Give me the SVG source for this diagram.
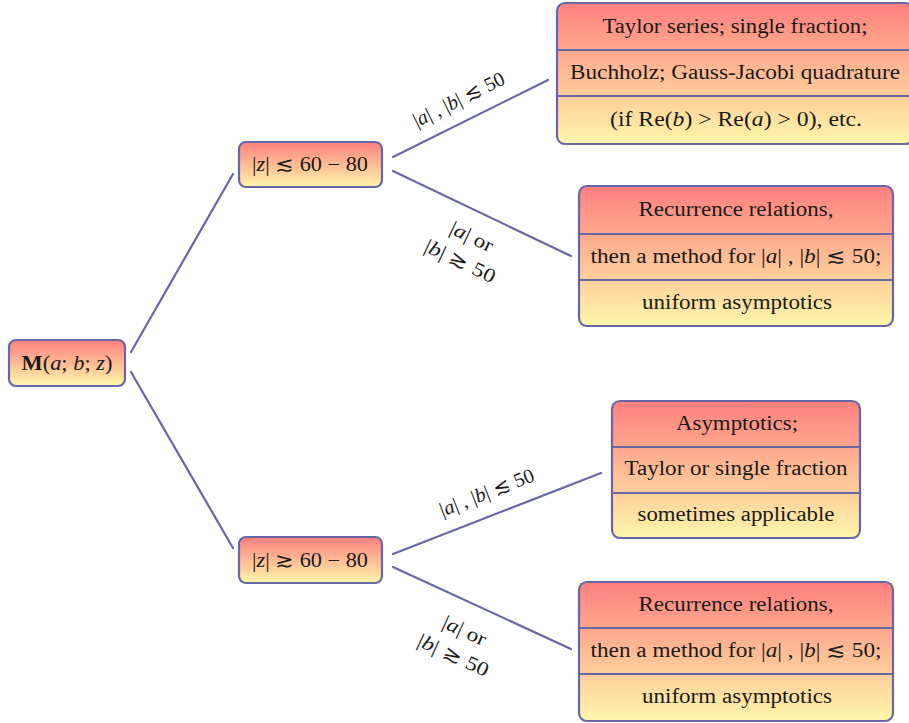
<svg xmlns="http://www.w3.org/2000/svg" width="909" height="723" viewBox="0 0 909 723">
<defs>
<linearGradient id="g" x1="0" y1="0" x2="0" y2="1">
<stop offset="0" stop-color="#FF7F7F"/>
<stop offset="1" stop-color="#FFF7AA"/>
</linearGradient>
</defs>
<style>
.box{fill:url(#g);stroke:#6767A7;stroke-width:2.2}
.sep{stroke:#6767A7;stroke-width:2.2}
.con{stroke:#6767A7;stroke-width:2.2;fill:none;stroke-linecap:round}
text{font-family:"Liberation Serif","DejaVu Serif",serif;font-size:20px;fill:#1a1a1a;text-anchor:middle}
.i{font-style:italic}
.b{font-weight:bold}
</style>
<rect width="909" height="723" fill="#ffffff"/>
<g id="connectors">
<line class="con" x1="131" y1="352" x2="233" y2="174"/>
<line class="con" x1="131" y1="372" x2="233" y2="548"/>
<line class="con" x1="393" y1="157" x2="548" y2="80"/>
<line class="con" x1="393" y1="171" x2="571" y2="256"/>
<line class="con" x1="393" y1="554" x2="601" y2="473"/>
<line class="con" x1="393" y1="567" x2="571" y2="649"/>
<g transform="translate(459,100) rotate(-26.4)"><text x="0" y="6" textLength="100" lengthAdjust="spacingAndGlyphs">|<tspan class="i">a</tspan>| , |<tspan class="i">b</tspan>| ≲ 50</text></g>
<g transform="translate(466,249) rotate(25.5)"><text x="0" y="-7" textLength="46" lengthAdjust="spacingAndGlyphs">|<tspan class="i">a</tspan>| or</text><text x="0" y="20" textLength="76" lengthAdjust="spacingAndGlyphs">|<tspan class="i">b</tspan>| ≳ 50</text></g>
<g transform="translate(487,493) rotate(-21.3)"><text x="0" y="6" textLength="100" lengthAdjust="spacingAndGlyphs">|<tspan class="i">a</tspan>| , |<tspan class="i">b</tspan>| ≲ 50</text></g>
<g transform="translate(459,643) rotate(24.7)"><text x="0" y="-7" textLength="46" lengthAdjust="spacingAndGlyphs">|<tspan class="i">a</tspan>| or</text><text x="0" y="20" textLength="76" lengthAdjust="spacingAndGlyphs">|<tspan class="i">b</tspan>| ≳ 50</text></g>
</g>
<g id="root">
<rect class="box" x="9" y="340" width="116" height="46" rx="7"/>
<text x="67" y="370" textLength="91" lengthAdjust="spacingAndGlyphs"><tspan class="b">M</tspan>(<tspan class="i">a</tspan>; <tspan class="i">b</tspan>; <tspan class="i">z</tspan>)</text>
</g>
<g id="small-z">
<rect class="box" x="239" y="142" width="143" height="45" rx="7"/>
<text x="310" y="171" textLength="116" lengthAdjust="spacingAndGlyphs">|<tspan class="i">z</tspan>| ≲ 60 − 80</text>
</g>
<g id="large-z">
<rect class="box" x="239" y="537" width="143" height="46" rx="7"/>
<text x="310" y="567" textLength="116" lengthAdjust="spacingAndGlyphs">|<tspan class="i">z</tspan>| ≳ 60 − 80</text>
</g>
<g id="box1">
<rect class="box" x="557" y="3" width="356" height="141" rx="8"/>
<line class="sep" x1="557" y1="50" x2="913" y2="50"/>
<line class="sep" x1="557" y1="96" x2="913" y2="96"/>
<text x="735" y="33" textLength="265" lengthAdjust="spacingAndGlyphs">Taylor series; single fraction;</text>
<text x="735" y="79" textLength="330" lengthAdjust="spacingAndGlyphs">Buchholz; Gauss-Jacobi quadrature</text>
<text x="736" y="126" textLength="252" lengthAdjust="spacingAndGlyphs">(if Re(<tspan class="i">b</tspan>) &gt; Re(<tspan class="i">a</tspan>) &gt; 0), etc.</text>
</g>
<g id="box2">
<rect class="box" x="579" y="186" width="314" height="140" rx="8"/>
<line class="sep" x1="579" y1="234" x2="893" y2="234"/>
<line class="sep" x1="579" y1="280" x2="893" y2="280"/>
<text x="736" y="216" textLength="195" lengthAdjust="spacingAndGlyphs">Recurrence relations,</text>
<text x="736" y="263" textLength="291" lengthAdjust="spacingAndGlyphs">then a method for |<tspan class="i">a</tspan>| , |<tspan class="i">b</tspan>| ≲ 50;</text>
<text x="737" y="309" textLength="190" lengthAdjust="spacingAndGlyphs">uniform asymptotics</text>
</g>
<g id="box3">
<rect class="box" x="612" y="401" width="248" height="137" rx="8"/>
<line class="sep" x1="612" y1="447" x2="860" y2="447"/>
<line class="sep" x1="612" y1="493" x2="860" y2="493"/>
<text x="737" y="430" textLength="122" lengthAdjust="spacingAndGlyphs">Asymptotics;</text>
<text x="736" y="475" textLength="223" lengthAdjust="spacingAndGlyphs">Taylor or single fraction</text>
<text x="736" y="521" textLength="197" lengthAdjust="spacingAndGlyphs">sometimes applicable</text>
</g>
<g id="box4">
<rect class="box" x="579" y="582" width="314" height="139" rx="8"/>
<line class="sep" x1="579" y1="628" x2="893" y2="628"/>
<line class="sep" x1="579" y1="674" x2="893" y2="674"/>
<text x="736" y="611" textLength="195" lengthAdjust="spacingAndGlyphs">Recurrence relations,</text>
<text x="736" y="657" textLength="291" lengthAdjust="spacingAndGlyphs">then a method for |<tspan class="i">a</tspan>| , |<tspan class="i">b</tspan>| ≲ 50;</text>
<text x="737" y="703" textLength="190" lengthAdjust="spacingAndGlyphs">uniform asymptotics</text>
</g>
</svg>
